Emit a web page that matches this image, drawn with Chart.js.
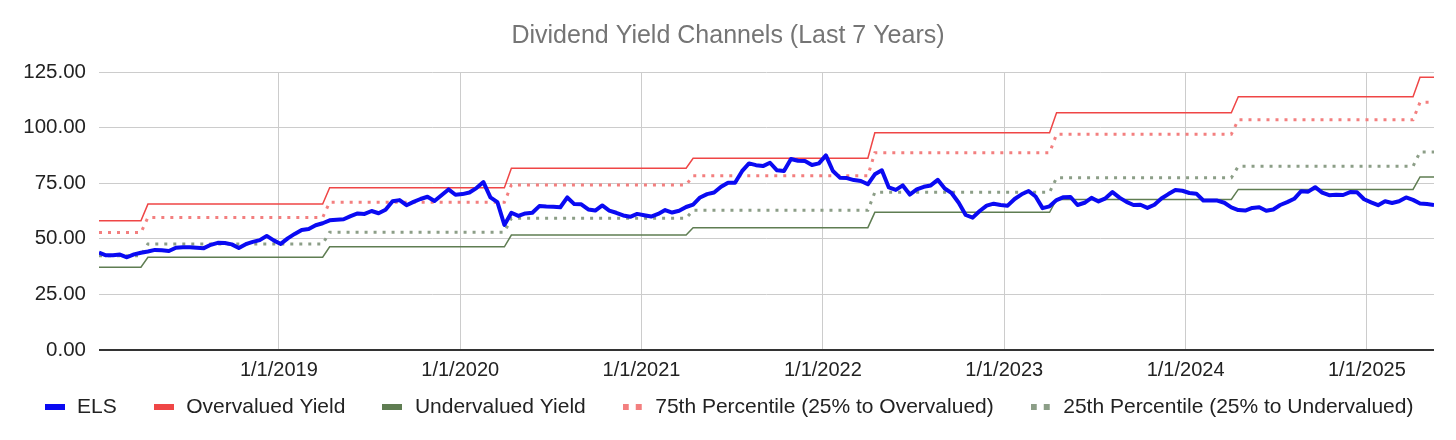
<!DOCTYPE html>
<html>
<head>
<meta charset="utf-8">
<script src="https://cdn.jsdelivr.net/npm/chart.js@4/dist/chart.umd.min.js"></script>
<style>
  html, body { margin: 0; background: #fff; }
  #wrap { width: 1456px; height: 440px; }
</style>
</head>
<body>
<div id="wrap"><canvas id="chart"></canvas></div>
<script>
// observation window (bi-weekly closes)
const firstObs = '2018-01-04'
const lastObs = '2025-05-16'

// ELS dividend yield price channel
const els = [
    43.8, 42.6, 42.6, 42.9, 41.7, 43.0, 43.7, 44.3, 45.0, 44.8, 44.5, 46.0, 46.2,
    46.2, 46.0, 45.8, 47.3, 48.2, 48.1, 47.5, 45.9, 47.6, 48.6, 49.4, 51.3, 49.3,
    47.7, 50.2, 52.2, 54.0, 54.4, 56.1, 57.0, 58.3, 58.6, 58.8, 60.2, 61.4, 61.2,
    62.5, 61.5, 63.1, 66.9, 67.4, 65.1, 66.6, 67.9, 68.9, 67.0, 69.6, 72.2, 69.8,
    70.1, 70.8, 72.8, 75.5, 68.6, 66.5, 56.2, 61.7, 60.3, 61.4, 61.7, 64.7, 64.5,
    64.4, 64.2, 68.6, 65.6, 65.5, 63.2, 62.7, 65.0, 62.7, 61.7, 60.5, 59.9, 61.2,
    60.6, 60.0, 61.2, 62.9, 61.8, 62.6, 64.3, 65.4, 68.6, 70.1, 70.8, 73.4, 75.2,
    75.2, 80.4, 83.9, 83.1, 82.7, 84.2, 80.8, 80.5, 85.9, 85.1, 85.0, 83.2, 83.9,
    87.5, 80.5, 77.5, 77.3, 76.4, 76.0, 74.5, 79.0, 80.8, 73.1, 72.0, 74.0, 69.9,
    72.2, 73.4, 74.0, 76.5, 72.6, 70.5, 66.2, 60.7, 59.5, 62.5, 64.9, 65.8, 65.2,
    64.9, 67.9, 70.0, 71.5, 69.0, 63.8, 64.6, 67.4, 68.7, 68.8, 65.2, 66.2, 68.4,
    66.8, 68.2, 71.0, 68.5, 66.6, 65.2, 65.3, 63.9, 65.3, 68.1, 70.1, 71.9, 71.6,
    70.6, 70.3, 67.2, 67.2, 67.2, 66.2, 64.1, 62.9, 62.7, 63.9, 64.2, 62.6, 63.2,
    65.2, 66.5, 68.0, 71.4, 71.2, 73.2, 70.8, 69.6, 69.8, 69.7, 71.0, 70.9, 67.8,
    66.4, 65.1, 66.9, 66.1, 66.9, 68.6, 67.5, 65.9, 65.6, 65.2
]

// channel levels change once a year (dividend raise), index of first obs at new level
const stepStarts = [0, 7, 33, 59, 85, 111, 137, 163, 189]
const overvalued = [58.1, 65.6, 73.0, 81.7, 86.2, 97.7, 106.7, 113.9, 122.6]
const undervalued = [37.2, 41.7, 46.4, 51.7, 55.0, 61.9, 67.7, 72.2, 77.8]
const pct75 = [52.8, 59.6, 66.4, 74.2, 78.4, 88.7, 97.0, 103.5, 111.4]
const pct25 = [42.4, 47.7, 53.0, 59.2, 62.8, 70.9, 77.4, 82.6, 89.0]

const yearTicks = [2019, 2020, 2021, 2022, 2023, 2024, 2025]

const toYear = s => {
    let d = new Date(s + 'T00:00:00Z'),
        y = d.getUTCFullYear(),
        a = Date.UTC(y, 0, 1),
        b = Date.UTC(y + 1, 0, 1)
    return y + (d - a) / (b - a)
}

const x0 = toYear(firstObs), x1 = toYear(lastObs)
const xs = els.map((_, i) => x0 + i * (x1 - x0) / (els.length - 1))

const series = vals => vals.map((v, i) => ({x: xs[i], y: v}))
const channel = levels => xs.map((x, i) => {
    let k = 0
    stepStarts.forEach((s, j) => { if (i >= s) k = j })
    return {x: x, y: levels[k]}
})

const swatch = (color, dotted) => {
    let c = document.createElement('canvas')
    c.width = 20
    c.height = 6
    let g = c.getContext('2d')
    g.fillStyle = color
    if (dotted) {
        g.fillRect(0, 0, 6, 6)
        g.fillRect(13, 0, 6, 6)
    } else {
        g.fillRect(0, 0, 20, 6)
    }
    return c
}

const FONT = '"Liberation Sans", Arial, sans-serif'
const BLUE = '#0a0af2', RED = '#ef4646', GREEN = '#5f7d52', PINK = '#f37f7f', SAGE = '#8c9e87'

const legendSwatches = [
    swatch(BLUE, false), swatch(RED, false), swatch(GREEN, false),
    swatch(PINK, true), swatch(SAGE, true)
]

// legend padding is wide for the item spacing, so pull the row back up under the axis
const legendLift = {
    id: 'legendLift',
    afterLayout: chart => {
        chart.legend.top -= 20.5
        chart.legend.bottom -= 20.5
    }
}

new Chart(document.getElementById('chart').getContext('2d'), {
    type: 'line',
    plugins: [legendLift],
    data: {
        datasets: [{
            label: 'ELS',
            data: series(els),
            borderColor: BLUE,
            borderWidth: 4,
            borderJoinStyle: 'round'
        }, {
            label: 'Overvalued Yield',
            data: channel(overvalued),
            borderColor: RED,
            borderWidth: 1.5
        }, {
            label: 'Undervalued Yield',
            data: channel(undervalued),
            borderColor: GREEN,
            borderWidth: 1.5
        }, {
            label: '75th Percentile (25% to Overvalued)',
            data: channel(pct75),
            borderColor: PINK,
            borderWidth: 3,
            borderDash: [3, 6]
        }, {
            label: '25th Percentile (25% to Undervalued)',
            data: channel(pct25),
            borderColor: SAGE,
            borderWidth: 3,
            borderDash: [3, 6]
        }]
    },
    options: {
        responsive: true,
        maintainAspectRatio: false,
        animation: false,
        elements: {
            point: { radius: 0 },
            line: { tension: 0, fill: false }
        },
        layout: { padding: { top: 21, right: 0, bottom: 0, left: 0 } },
        plugins: {
            title: {
                display: true,
                text: 'Dividend Yield Channels (Last 7 Years)',
                color: '#757575',
                font: { family: FONT, size: 25, weight: 'normal' },
                padding: { top: 0, bottom: 21 }
            },
            legend: {
                position: 'bottom',
                maxHeight: 58,
                labels: {
                    usePointStyle: true,
                    pointStyleWidth: 24,
                    boxHeight: 6,
                    padding: 35,
                    color: '#222',
                    font: { family: FONT, size: 21 },
                    generateLabels: chart => {
                        let items = Chart.defaults.plugins.legend.labels.generateLabels(chart)
                        items.forEach((it, i) => { it.pointStyle = legendSwatches[i] })
                        return items
                    }
                }
            },
            tooltip: { enabled: false }
        },
        scales: {
            x: {
                type: 'linear',
                min: xs[0],
                max: xs[xs.length - 1],
                afterBuildTicks: s => { s.ticks = yearTicks.map(v => ({value: v})) },
                afterFit: s => { s.height = 32 },
                border: { display: false },
                grid: { color: '#cccccc', drawTicks: false },
                ticks: {
                    autoSkip: false,
                    maxRotation: 0,
                    padding: 8,
                    color: '#222',
                    font: { family: FONT, size: 20, lineHeight: 1.2 },
                    callback: v => '1/1/' + v
                }
            },
            y: {
                min: 0,
                max: 125,
                afterFit: s => { s.width = 99 },
                border: { display: false },
                grid: {
                    drawTicks: false,
                    color: c => c.tick.value === 0 ? '#333333' : '#cccccc',
                    lineWidth: c => c.tick.value === 0 ? 2 : 1
                },
                ticks: {
                    stepSize: 25,
                    padding: 13,
                    color: '#222',
                    font: { family: FONT, size: 20.5 },
                    callback: v => v.toFixed(2)
                }
            },
            // empty right gutter so the title and legend centre on the page
            gutter: {
                type: 'linear',
                position: 'right',
                afterFit: s => { s.width = 22 },
                border: { display: false },
                grid: { display: false },
                ticks: { display: false }
            }
        }
    }
})
</script>
</body>
</html>
